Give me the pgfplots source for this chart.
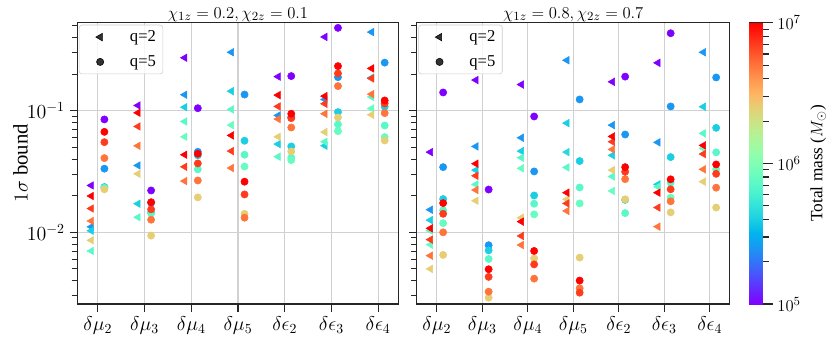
\documentclass[border=0pt]{standalone}
\usepackage{fontspec}
\setmainfont{Liberation Serif}
\usepackage{pgfplots}
\usepackage{pgfplotstable}
\pgfplotsset{compat=1.18}

% matplotlib "rainbow"
\pgfplotsset{colormap={mplrainbow}{
  rgb255=(128,0,255) rgb255=(102,40,254) rgb255=(77,79,252) rgb255=(51,116,248)
  rgb255=(26,150,243) rgb255=(0,180,236) rgb255=(26,206,227) rgb255=(51,227,218)
  rgb255=(77,243,206) rgb255=(102,252,194) rgb255=(128,255,180) rgb255=(153,252,166)
  rgb255=(179,243,150) rgb255=(204,227,133) rgb255=(230,206,116) rgb255=(255,180,98)
  rgb255=(255,150,79) rgb255=(255,116,59) rgb255=(255,79,40) rgb255=(255,40,20)
  rgb255=(255,0,0)}}

% c = category, y = bound, m = log10(total mass)
\pgfplotstableread{
c y m
0 0.0243 5.0
0 0.0111 5.4
0 0.0103 5.6
0 0.00703 5.85
0 0.0086 6.4
0 0.0124 6.7
0 0.0157 6.85
0 0.0199 7.0
1 0.1106 5.0
1 0.0355 5.4
1 0.0172 5.6
1 0.0133 5.85
1 0.0303 6.4
1 0.0515 6.7
1 0.0743 6.85
1 0.0963 7.0
2 0.273 5.0
2 0.1355 5.4
2 0.107 5.6
2 0.0817 5.85
2 0.0611 5.9
2 0.0264 6.7
2 0.0346 6.85
2 0.0435 7.0
3 0.303 5.4
3 0.145 5.6
3 0.1026 5.85
3 0.0762 5.9
3 0.0338 6.7
3 0.0466 6.85
3 0.0627 7.0
4 0.191 5.0
4 0.0916 5.4
4 0.0532 5.6
4 0.0419 5.85
4 0.0611 6.4
4 0.0855 6.7
4 0.1086 6.85
4 0.1345 7.0
5 0.405 5.0
5 0.1239 5.4
5 0.0516 5.6
5 0.0556 5.85
5 0.0668 6.4
5 0.0945 6.7
5 0.1142 6.85
5 0.132 7.0
6 0.444 5.4
6 0.187 5.6
6 0.130 5.85
6 0.1045 5.9
6 0.0927 6.4
6 0.137 6.7
6 0.1845 6.85
6 0.223 7.0
}\LT

\pgfplotstableread{
c y m
0 0.0849 5.0
0 0.0334 5.4
0 0.0236 5.6
0 0.0232 5.85
0 0.0226 6.4
0 0.0408 6.7
0 0.0552 6.85
0 0.0671 7.0
1 0.0221 5.0
1 0.0175 5.4
1 0.0146 5.6
1 0.0143 5.85
1 0.0094 6.4
1 0.0127 6.7
1 0.01545 6.85
1 0.0177 7.0
2 0.105 5.0
2 0.046 5.4
2 0.043 5.6
2 0.033 5.85
2 0.0194 6.4
2 0.0267 6.7
2 0.0369 6.85
2 0.0443 7.0
3 0.136 5.4
3 0.0567 5.6
3 0.0435 5.85
3 0.0348 5.9
3 0.0142 6.4
3 0.0132 6.7
3 0.0205 6.85
3 0.0261 7.0
4 0.193 5.0
4 0.0887 5.4
4 0.0509 5.6
4 0.0411 5.85
4 0.0393 5.9
4 0.0463 6.4
4 0.0729 6.7
4 0.087 6.85
4 0.0945 7.0
5 0.481 5.0
5 0.189 5.4
5 0.0975 5.6
5 0.0772 5.85
5 0.068 5.9
5 0.0881 6.4
5 0.1596 6.7
5 0.203 6.85
5 0.233 7.0
6 0.249 5.4
6 0.108 5.6
6 0.0757 5.85
6 0.0608 5.9
6 0.057 6.4
6 0.0957 6.7
6 0.1148 6.85
6 0.1216 7.0
}\LC

\pgfplotstableread{
c y m
0 0.0457 5.0
0 0.01535 5.4
0 0.0126 5.6
0 0.01033 5.85
0 0.00792 5.9
0 0.0050 6.4
0 0.00643 6.7
0 0.00871 6.85
0 0.01079 7.0
1 0.179 5.0
1 0.0509 5.4
1 0.0325 5.6
1 0.0248 5.85
1 0.0182 6.4
1 0.0223 6.7
1 0.0292 6.85
1 0.0367 7.0
2 0.1644 5.0
2 0.060 5.4
2 0.0466 5.6
2 0.0411 5.85
2 0.0336 5.9
2 0.0132 6.4
2 0.00787 6.7
2 0.00934 6.85
2 0.01225 7.0
3 0.2604 5.4
3 0.0792 5.6
3 0.0457 5.65
3 0.0342 5.85
3 0.0187 6.4
3 0.0150 6.7
3 0.0173 6.85
3 0.0212 7.0
4 0.173 5.0
4 0.0762 5.4
4 0.0430 5.6
4 0.0288 5.85
4 0.0219 5.9
4 0.0325 6.4
4 0.0481 6.7
4 0.0556 6.85
4 0.0615 7.0
5 0.248 5.0
5 0.055 5.4
5 0.0248 5.6
5 0.0237 5.85
5 0.01114 6.7
5 0.0160 6.85
5 0.0212 7.0
6 0.303 5.4
6 0.108 5.6
6 0.0652 5.85
6 0.049 5.9
6 0.0261 6.4
6 0.033 6.7
6 0.0441 6.85
6 0.0519 7.0
}\RT

\pgfplotstableread{
c y m
0 0.1415 5.0
0 0.0344 5.4
0 0.0188 5.6
0 0.0152 5.85
0 0.0119 5.9
0 0.00652 6.4
0 0.0100 6.7
0 0.0142 6.85
0 0.0174 7.0
1 0.0225 5.0
1 0.00784 5.4
1 0.00711 5.6
1 0.00604 5.85
1 0.0029 6.4
1 0.00325 6.7
1 0.0043 6.85
1 0.00497 7.0
2 0.0898 5.0
2 0.0317 5.4
2 0.0201 5.6
2 0.0172 5.85
2 0.01406 5.9
2 0.00611 6.4
2 0.00416 6.7
2 0.00545 6.85
2 0.00703 7.0
3 0.124 5.4
3 0.0386 5.6
3 0.0234 5.85
3 0.0173 5.9
3 0.0062 6.4
3 0.00347 6.7
3 0.00319 6.85
3 0.00401 7.0
4 0.191 5.0
4 0.0638 5.4
4 0.0185 5.6
4 0.0144 5.85
4 0.0187 6.4
4 0.0274 6.7
4 0.0315 6.85
4 0.0344 7.0
5 0.4345 5.0
5 0.1086 5.4
5 0.0416 5.6
5 0.0256 5.85
5 0.0193 5.9
5 0.0146 6.4
5 0.0180 6.7
5 0.0226 6.85
5 0.0273 7.0
6 0.188 5.4
6 0.0724 5.6
6 0.0455 5.85
6 0.0330 5.9
6 0.0160 6.4
6 0.0233 6.7
6 0.0303 6.85
6 0.0362 7.0
}\RC

\pgfplotsset{
  scatter/use mapped color={draw=mapped color, fill=mapped color},
  wide legend/.style={legend image code/.code={\path (0cm,0cm) (1.1cm,0cm);
    \draw[##1] plot coordinates {(0.42cm,0cm)};}},
}

\begin{document}
\begin{tikzpicture}
\begin{axis}[name=L,
    scale only axis, width=231.4bp, height=202.5bp,
    ymode=log, ymin=0.002572, ymax=0.5296,
    xmin=-0.44, xmax=6.44,
    xtick={0,1,2,3,4,5,6},
    xticklabels={$\delta\mu_2$,$\delta\mu_3$,$\delta\mu_4$,$\delta\mu_5$,$\delta\epsilon_2$,$\delta\epsilon_3$,$\delta\epsilon_4$},
    ytick={0.01,0.1},
    minor ytick={0.003,0.004,0.005,0.006,0.007,0.008,0.009,0.02,0.03,0.04,0.05,0.06,0.07,0.08,0.09,0.2,0.3,0.4,0.5},
    xtick pos=bottom, ytick pos=left, tick align=outside,
    major tick length=5.5bp, minor tick length=4bp,
    tick style={line width=0.8bp, black!85},
    axis line style={line width=0.8bp, black!85},
    grid=major, major grid style={line width=0.8bp, black!18},
    tick label style={font=\fontsize{14}{16}\selectfont},
    title style={font=\fontsize{13}{15}\selectfont, yshift=-8.5bp},
    colormap name=mplrainbow, point meta min=5, point meta max=7,
    legend style={at={(0.005,0.993)}, anchor=north west,
      draw=black!20, rounded corners=2bp, fill=white, fill opacity=0.8,
      text opacity=1, draw opacity=1, inner ysep=2bp,
      font=\fontsize{12}{14}\selectfont, row sep=4.5bp},
    legend cell align=left,
    title={$\chi_{1z} = 0.2, \chi_{2z} = 0.1$},
    ylabel={$1\sigma$ bound},
    ylabel style={font=\fontsize{15}{17}\selectfont,
      at={(axis description cs:-0.177,0.5)}, anchor=center},
  ]
\addlegendimage{only marks, mark=triangle*, mark size=3.1bp, mark options={rotate=90}, black, wide legend}
\addlegendentry{q=2}
\addlegendimage{only marks, mark=*, mark size=2.6bp, black, wide legend}
\addlegendentry{q=5}
\addplot[scatter, only marks, scatter src=explicit, forget plot,
    mark=triangle*, mark size=3.1bp, mark options={rotate=90}]
  table[x expr=\thisrow{c}-0.14, y=y, meta=m] {\LT};
\addplot[scatter, only marks, scatter src=explicit, forget plot,
    mark=*, mark size=2.6bp]
  table[x expr=\thisrow{c}+0.14, y=y, meta=m] {\LC};
\end{axis}

\begin{axis}[name=R, at={(L.south west)}, anchor=south west, xshift=244.4bp,
    scale only axis, width=225.4bp, height=202.5bp,
    ymode=log, ymin=0.002572, ymax=0.5296,
    xmin=-0.44, xmax=6.44,
    xtick={0,1,2,3,4,5,6},
    xticklabels={$\delta\mu_2$,$\delta\mu_3$,$\delta\mu_4$,$\delta\mu_5$,$\delta\epsilon_2$,$\delta\epsilon_3$,$\delta\epsilon_4$},
    ytick={0.01,0.1}, yticklabels={},
    minor ytick={0.003,0.004,0.005,0.006,0.007,0.008,0.009,0.02,0.03,0.04,0.05,0.06,0.07,0.08,0.09,0.2,0.3,0.4,0.5},
    xtick pos=bottom, ytick pos=left, tick align=outside,
    major tick length=5.5bp, minor tick length=4bp,
    tick style={line width=0.8bp, black!85},
    axis line style={line width=0.8bp, black!85},
    grid=major, major grid style={line width=0.8bp, black!18},
    tick label style={font=\fontsize{14}{16}\selectfont},
    title style={font=\fontsize{13}{15}\selectfont, yshift=-8.5bp},
    colormap name=mplrainbow, point meta min=5, point meta max=7,
    legend style={at={(0.005,0.993)}, anchor=north west,
      draw=black!20, rounded corners=2bp, fill=white, fill opacity=0.8,
      text opacity=1, draw opacity=1, inner ysep=2bp,
      font=\fontsize{12}{14}\selectfont, row sep=4.5bp},
    legend cell align=left,
    title={$\chi_{1z} = 0.8, \chi_{2z} = 0.7$},
  ]
\addlegendimage{only marks, mark=triangle*, mark size=3.1bp, mark options={rotate=90}, black, wide legend}
\addlegendentry{q=2}
\addlegendimage{only marks, mark=*, mark size=2.6bp, black, wide legend}
\addlegendentry{q=5}
\addplot[scatter, only marks, scatter src=explicit, forget plot,
    mark=triangle*, mark size=3.1bp, mark options={rotate=90}]
  table[x expr=\thisrow{c}-0.14, y=y, meta=m] {\RT};
\addplot[scatter, only marks, scatter src=explicit, forget plot,
    mark=*, mark size=2.6bp]
  table[x expr=\thisrow{c}+0.14, y=y, meta=m] {\RC};
\end{axis}

% colour bar, log10 of total mass
\begin{axis}[at={(R.south east)}, anchor=south west, xshift=13.9bp,
    scale only axis, width=9.9bp, height=202.5bp,
    xmin=0, xmax=1, ymin=5, ymax=7, xtick=\empty,
    ytick={5,6,7},
    yticklabels={$10^{5}$,$10^{6}$,$10^{7}$},
    minor ytick={5.301,5.477,5.602,5.699,5.778,5.845,5.903,5.954,
                 6.301,6.477,6.602,6.699,6.778,6.845,6.903,6.954},
    ytick pos=right, yticklabel pos=right,
    tick align=outside,
    major tick length=7bp, minor tick length=4.5bp,
    tick style={line width=0.8bp, black!85},
    axis line style={line width=0.8bp, black!85},
    yticklabel style={font=\fontsize{12.5}{14}\selectfont},
    ylabel={Total mass ($M_{\odot}$)},
    ylabel style={font=\fontsize{12.5}{14}\selectfont},
    colormap name=mplrainbow, point meta min=5, point meta max=7,
  ]
\addplot[surf, shader=interp, mesh/cols=2, point meta=y] coordinates {(0,5) (1,5) (0,7) (1,7)};
\end{axis}
\pgfresetboundingbox
\path (L.south west) ++(-55.66bp,-28.8bp) rectangle ++(597.6bp,247.7bp);
\end{tikzpicture}
\end{document}
